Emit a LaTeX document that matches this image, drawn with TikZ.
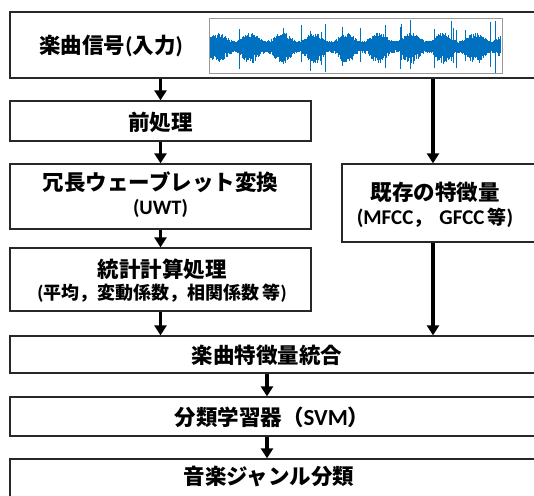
\documentclass[tikz,border=0pt]{standalone}
\usepackage{fontspec}
\setmainfont{Noto Sans CJK JP}
\newfontfamily\lat{Carlito}
\usetikzlibrary{arrows.meta}
\definecolor{wavec}{RGB}{0,112,192}
\definecolor{edge}{RGB}{40,40,40}
\tikzset{
  box/.style={draw=edge, line width=1.3pt, fill=white, inner sep=0pt},
  lbl/.style={inner sep=0pt, font=\bfseries\fontsize{21.5}{25}\selectfont, align=center},
  arr/.style={line width=3.2pt, -{Triangle[width=12pt,length=10pt]}},
  wave/.style={draw=wavec, line width=0.55pt}
}
\newcommand\LL[2]{{\lat\fontsize{#1}{#1}\selectfont #2}}
\begin{document}
\begin{tikzpicture}[x=1pt,y=-1pt]
\useasboundingbox (0,0) rectangle (534,495);
% boxes
\node[box, minimum width=535pt, minimum height=66pt] (in) at (277.5,45) {};
\node[box, minimum width=301pt, minimum height=40pt] (pre) at (160.5,121) {};
\node[box, minimum width=301pt, minimum height=65pt] (uwt) at (160.5,196.5) {};
\node[box, minimum width=301pt, minimum height=63pt] (stat) at (160.5,279.5) {};
\node[box, minimum width=203pt, minimum height=78pt] (ex) at (443.5,203) {};
\node[box, minimum width=535pt, minimum height=37pt] (merge) at (277.5,354.5) {};
\node[box, minimum width=535pt, minimum height=39pt] (cls) at (277.5,416.5) {};
\node[box, minimum width=535pt, minimum height=60pt] (genre) at (277.5,489) {};
% texts
\node[lbl] (inT) at (111,46) {楽曲信号\LL{23}{(}入力\LL{23}{)}};
\node[lbl] (preT) at (160.5,122) {前処理};
\node[lbl] (uwtT) at (160.5,195) {冗長ウェーブレット変換\\[-1pt]\LL{20.5}{(UWT)}};
\node[lbl] (statT) at (162,281) {統計計算処理\\[-3pt]{\fontsize{18}{20}\selectfont\LL{19.5}{(}平均，変動係数，相関係数\,等\LL{19.5}{)}}};
\node[lbl] (exT) at (435,205) {既存の特徴量\\[-1pt]{\fontsize{19}{21}\selectfont\LL{21}{(MFCC}，\hspace{7pt}\LL{21}{GFCC}\,等\LL{21}{)}}};
\node[lbl] (mergeT) at (267,355) {楽曲特徴量統合};
\node[lbl] (clsT) at (272,417) {分類学習器（\LL{23}{SVM}）};
\node[lbl] (genreT) at (269,476) {音楽ジャンル分類};
% waveform
\node[draw=gray!80, line width=0.8pt, minimum width=293pt, minimum height=55pt, inner sep=0pt] (wf) at (355.5,45.5) {};
\pgfmathsetseed{11}
\begin{scope}
\clip (wf.south west) rectangle (wf.north east);
\foreach \i in {0,...,580}{
  \pgfmathsetmacro\xx{210+\i*0.5}
  \pgfmathsetmacro\e{5+8*abs(sin((\i*0.5+8)*5.6))^2}
  \pgfmathsetmacro\u{\e*(0.6+0.45*rnd)}
  \pgfmathsetmacro\d{\e*(0.7+0.7*rnd)}
  \pgfmathsetmacro\s{rnd}
  \ifdim\s pt>0.975pt \pgfmathsetmacro\u{12+14*rnd}\pgfmathsetmacro\d{14+14*rnd}\fi
  \draw[wave] (\xx,46-\u) -- (\xx,46+\d);
}
\end{scope}
% connectors
\draw[arr] (in.south -| pre) -- (pre.north);
\draw[arr] (pre.south) -- (uwt.north);
\draw[arr] (uwt.south) -- (stat.north);
\draw[arr] (stat.south -| pre) -- (merge.north -| pre);
\draw[arr] (in.south -| 433,0) -- (ex.north -| 433,0);
\draw[arr] (ex.south -| 433,0) -- (merge.north -| 433,0);
\draw[arr] (merge.south -| mergeT) -- (cls.north -| mergeT);
\draw[arr] (cls.south -| mergeT) -- (genre.north -| mergeT);
\end{tikzpicture}
\end{document}
